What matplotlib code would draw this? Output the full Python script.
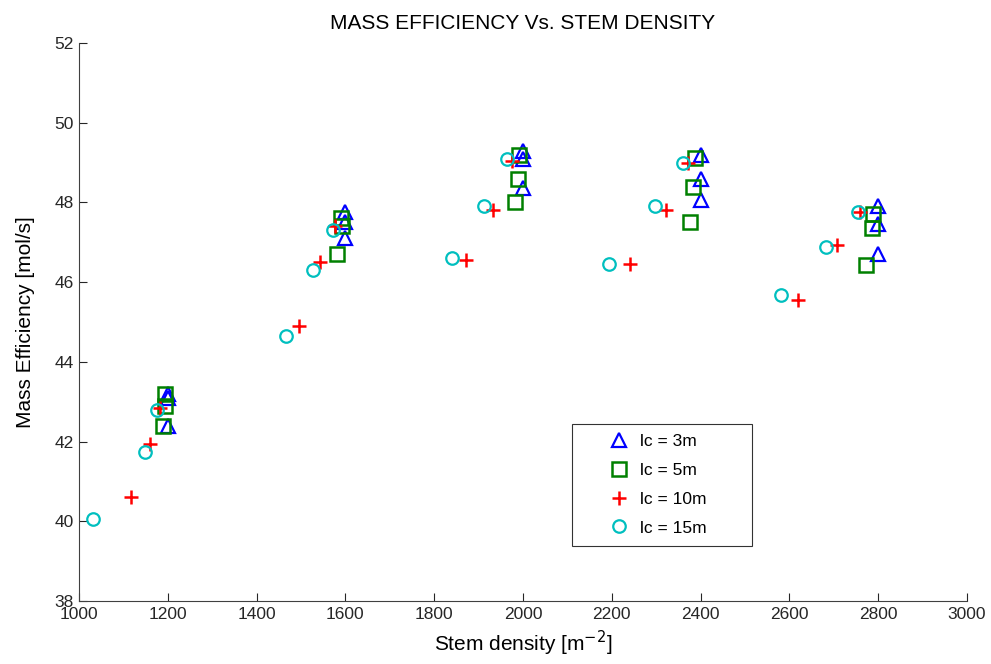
import matplotlib
matplotlib.use("Agg")
import matplotlib.pyplot as plt
from matplotlib.legend_handler import HandlerLine2D

plt.rcParams['font.family'] = ['Liberation Sans', 'DejaVu Sans']

# Series: lc = 3m (triangles)
x_3m = [1200, 1200, 1200, 1600, 1600, 1600, 2000, 2000, 2000, 2400, 2400, 2400, 2800, 2800, 2800]
y_3m = [43.2, 43.1, 42.4, 47.75, 47.5, 47.1, 49.3, 49.1, 48.35, 49.2, 48.6, 48.05, 47.9, 47.45, 46.7]

# Series: lc = 5m (squares)
x_5m = [1194, 1194, 1190, 1591, 1593, 1582, 1990, 1988, 1981, 2388, 2383, 2377, 2789, 2787, 2773]
y_5m = [43.2, 42.9, 42.4, 47.6, 47.4, 46.7, 49.2, 48.6, 48.0, 49.12, 48.4, 47.5, 47.72, 47.36, 46.43]

# Series: lc = 10m (plus)
x_10m = [1183, 1161, 1118, 1577, 1543, 1496, 1976, 1933, 1872, 2372, 2321, 2240, 2760, 2708, 2620]
y_10m = [42.85, 41.95, 40.6, 47.4, 46.5, 44.9, 49.05, 47.8, 46.55, 49.0, 47.8, 46.45, 47.76, 46.93, 45.55]

# Series: lc = 15m (circles)
x_15m = [1176, 1149, 1032, 1573, 1528, 1467, 1965, 1913, 1841, 2361, 2298, 2194, 2755, 2683, 2580]
y_15m = [42.8, 41.75, 40.05, 47.3, 46.3, 44.65, 49.08, 47.92, 46.6, 48.98, 47.92, 46.45, 47.76, 46.88, 45.68]

labels = ['lc = 3m', 'lc = 5m', 'lc = 10m', 'lc = 15m']
x_ticks = list(range(1000, 3001, 200))
y_ticks = list(range(38, 53, 2))

fig = plt.figure(figsize=(9.91, 6.64), dpi=100)
ax = fig.add_axes([0.0797, 0.0949, 0.8961, 0.8403])

ms = 9.5
ax.plot(x_3m, y_3m, linestyle='none', marker='^', markersize=ms, markerfacecolor='none',
        markeredgecolor=(0, 0, 1), markeredgewidth=1.6, label=labels[0])
ax.plot(x_5m, y_5m, linestyle='none', marker='s', markersize=ms, markerfacecolor='none',
        markeredgecolor=(0, 0.5, 0), markeredgewidth=1.8, label=labels[1])
ax.plot(x_10m, y_10m, linestyle='none', marker='+', markersize=ms + 1, markerfacecolor='none',
        markeredgecolor=(1, 0, 0), markeredgewidth=1.8, label=labels[2])
ax.plot(x_15m, y_15m, linestyle='none', marker='o', markersize=ms - 0.5, markerfacecolor='none',
        markeredgecolor=(0, 0.75, 0.75), markeredgewidth=1.6, label=labels[3])

ax.set_xlim(1000, 3000)
ax.set_ylim(38, 52)
ax.set_xticks(x_ticks)
ax.set_yticks(y_ticks)
ax.tick_params(direction='in', length=6, labelsize=12.5, colors='#262626', pad=4)
for s in ['top', 'right']:
    ax.spines[s].set_visible(False)
for s in ['left', 'bottom']:
    ax.spines[s].set_color('#404040')

ax.set_title('MASS EFFICIENCY Vs. STEM DENSITY', fontsize=15, pad=10)
ax.set_xlabel('Stem density [m$^{-2}$]', fontsize=15, labelpad=5)
ax.set_ylabel('Mass Efficiency [mol/s]', fontsize=15, labelpad=14)

leg_fs = 12.5
handler = HandlerLine2D(xpad=1.45)
leg = ax.legend(loc='upper left', bbox_to_anchor=(0.555, 0.0887, 0.2027, 0.2287), mode='expand',
                borderaxespad=0, fontsize=leg_fs, frameon=True, fancybox=False, edgecolor='black',
                handletextpad=0.6, borderpad=0.6, labelspacing=0.78, handlelength=2.75,
                handler_map={ln: handler for ln in ax.get_lines()})
leg.get_frame().set_linewidth(0.8)

fig.savefig('out.png', dpi=100)
